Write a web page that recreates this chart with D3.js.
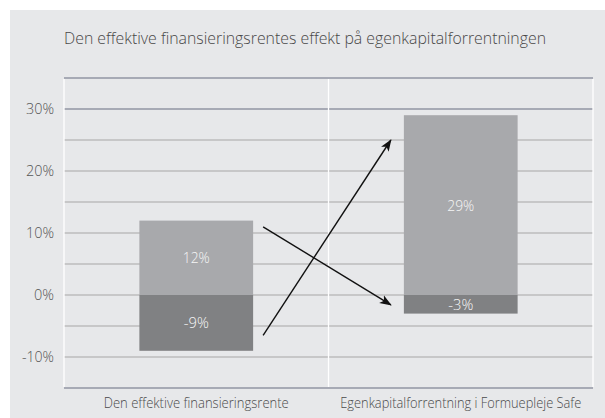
<!DOCTYPE html>
<html>
<head>
<meta charset="utf-8">
<script src="https://cdn.jsdelivr.net/npm/d3@7"></script>
<style>
  body { margin: 0; background: #fff; }
  svg text { font-family: "Open Sans", "DejaVu Sans", sans-serif; font-weight: 300; }
</style>
</head>
<body>
<svg id="chart"></svg>
<script>
// data
const categories = ["Den effektive finansieringsrente", "Egenkapitalforrentning i Formuepleje Safe"];
const positiveValues = [12, 29];
const negativeValues = [-9, -3];
const barLabels = [["12%", "-9%"], ["29%", "-3%"]];
const yTicks = [30, 20, 10, 0, -10];
const gridValues = [35, 30, 25, 20, 15, 10, 5, 0, -5, -10, -15];
// arrows: from category i at value, to category j at value
const arrows = [
  { from: [0, -6.5], to: [1, 25] },
  { from: [0, 11], to: [1, -1.6] }
];
const title = "Den effektive finansieringsrentes effekt på egenkapitalforrentningen";

const width = 605, height = 418;
const margin = { top: 78, right: 12, bottom: 30, left: 64 };

const svg = d3.select("#chart").attr("width", width).attr("height", height);

// background panel
svg.append("rect")
  .attr("x", 10).attr("y", 10)
  .attr("width", width - 10).attr("height", height - 10)
  .attr("fill", "#e7e8ea");

const x = d3.scaleBand()
  .domain(d3.range(categories.length))
  .range([margin.left, width - margin.right])
  .padding(0);

const y = d3.scaleLinear()
  .domain([-15, 35])
  .range([height - margin.bottom, margin.top]);

const barW = x.bandwidth() * 0.43;
const barX = (i) => x(i) + (x.bandwidth() - barW) / 2;

// title
svg.append("text")
  .attr("x", 64).attr("y", 44)
  .attr("font-size", 16.5)
  .attr("fill", "#474747")
  .attr("textLength", 482)
  .attr("lengthAdjust", "spacingAndGlyphs")
  .text(title);

// gridlines
svg.append("g")
  .selectAll("line")
  .data(gridValues)
  .join("line")
  .attr("x1", margin.left)
  .attr("x2", width - margin.right)
  .attr("y1", (d) => y(d))
  .attr("y2", (d) => y(d))
  .attr("stroke", (d) => (d === 35 || d === 30 || d === -15 ? "#a7aab5" : "#bcbcbc"))
  .attr("stroke-width", (d) => (d === 35 || d === 30 || d === -15 ? 2 : 1.6));

// white verticals: left, separator, right
svg.append("g")
  .selectAll("line")
  .data([x(0), x(1), x(1) + x.bandwidth()])
  .join("line")
  .attr("x1", (d) => d).attr("x2", (d) => d)
  .attr("y1", y(35) + 1).attr("y2", y(-15) - 1)
  .attr("stroke", "#ffffff")
  .attr("stroke-width", 1.3);

// y axis labels
const yAxis = svg.append("g")
  .attr("transform", "translate(" + (margin.left - 10) + ",0)")
  .call(d3.axisLeft(y).tickValues(yTicks).tickSize(0).tickFormat((d) => d + "%"));
yAxis.select(".domain").remove();
yAxis.selectAll("text")
  .attr("font-size", 15)
  .attr("fill", "#555")
  .attr("font-family", "'Open Sans', sans-serif")
  .attr("font-weight", 300)
  .attr("textLength", (d) => (d < 0 ? 32 : d === 0 ? 20 : 28))
  .attr("lengthAdjust", "spacingAndGlyphs")
  .attr("x", 0);

// category labels
const catLen = [185, 241];
svg.append("g")
  .selectAll("text")
  .data(categories)
  .join("text")
  .attr("x", (d, i) => x(i) + x.bandwidth() / 2)
  .attr("y", 408)
  .attr("text-anchor", "middle")
  .attr("font-size", 14)
  .attr("fill", "#4a4a4a")
  .attr("textLength", (d, i) => catLen[i])
  .attr("lengthAdjust", "spacingAndGlyphs")
  .text((d) => d);

// bars
svg.append("g")
  .selectAll("rect")
  .data(positiveValues)
  .join("rect")
  .attr("x", (d, i) => barX(i))
  .attr("y", (d) => y(d))
  .attr("width", barW)
  .attr("height", (d) => y(0) - y(d))
  .attr("fill", "#a8a9ac");

svg.append("g")
  .selectAll("rect")
  .data(negativeValues)
  .join("rect")
  .attr("x", (d, i) => barX(i))
  .attr("y", y(0))
  .attr("width", barW)
  .attr("height", (d) => y(d) - y(0))
  .attr("fill", "#808183");

// bar labels
const labelData = [];
categories.forEach((c, i) => {
  labelData.push({ i: i, v: positiveValues[i] / 2, t: barLabels[i][0] });
  labelData.push({ i: i, v: negativeValues[i] / 2, t: barLabels[i][1] });
});
svg.append("g")
  .selectAll("text")
  .data(labelData)
  .join("text")
  .attr("x", (d) => x(d.i) + x.bandwidth() / 2)
  .attr("y", (d) => y(d.v))
  .attr("dy", "0.36em")
  .attr("text-anchor", "middle")
  .attr("font-size", 15)
  .attr("fill", "#f6f6f6")
  .attr("textLength", (d) => (d.t.length === 3 && d.t[0] !== "-" ? 27 : 25))
  .attr("lengthAdjust", "spacingAndGlyphs")
  .text((d) => d.t);

// arrow marker
svg.append("defs").append("marker")
  .attr("id", "arrow")
  .attr("viewBox", "0 -5 12 10")
  .attr("refX", 11)
  .attr("refY", 0)
  .attr("markerWidth", 12)
  .attr("markerHeight", 10)
  .attr("markerUnits", "userSpaceOnUse")
  .attr("orient", "auto")
  .append("path")
  .attr("d", "M0,-4.5L12,0L0,4.5L3,0Z")
  .attr("fill", "#111");

svg.append("g")
  .selectAll("line")
  .data(arrows)
  .join("line")
  .attr("x1", (d) => barX(d.from[0]) + barW + 10)
  .attr("y1", (d) => y(d.from[1]))
  .attr("x2", (d) => barX(d.to[0]) - 13)
  .attr("y2", (d) => y(d.to[1]))
  .attr("stroke", "#111")
  .attr("stroke-width", 1.4)
  .attr("marker-end", "url(#arrow)");
</script>
</body>
</html>
